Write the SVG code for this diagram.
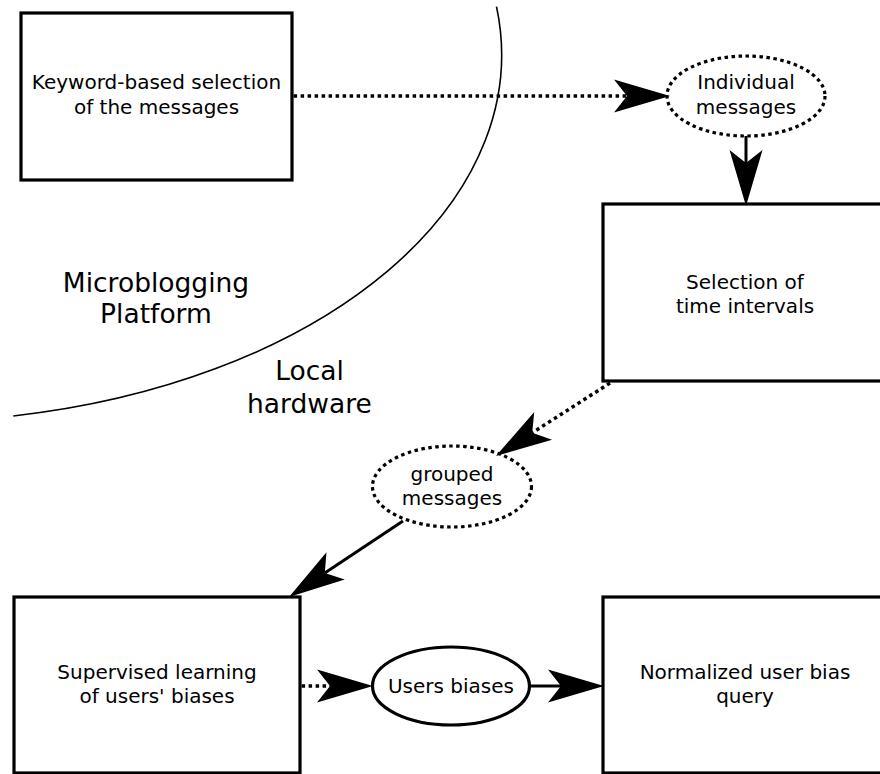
<svg xmlns="http://www.w3.org/2000/svg" width="880" height="774" viewBox="0 0 880 774">
<defs>
<style>
.box{fill:#fff;stroke:#000;stroke-width:3.2}
.ell{fill:#fff;stroke:#000;stroke-width:3.2}
.dotted{stroke-dasharray:3.5 3.5}
.t{font-family:"DejaVu Sans",sans-serif;font-size:20px;text-anchor:middle;fill:#000}
.big{font-size:26.5px}
.conn{fill:none;stroke:#000;stroke-width:3}
.conn.dotted{stroke-width:3.5}
.border{fill:none;stroke:#000;stroke-width:1.6}
</style>
<marker id="ah" markerUnits="userSpaceOnUse" orient="auto" refX="0" refY="0" markerWidth="60" markerHeight="40" overflow="visible">
<path d="M43,0 L-13,-16.5 L0,0 L-13,16.5 Z" fill="#000"/>
</marker>
</defs>
<rect x="0" y="0" width="880" height="774" fill="#fff"/>

<g id="boundary">
<path class="border" d="M496.5,6.7 A594,367 0 0 1 13.3,416"/>
<text class="t big" x="156" y="291.5">Microblogging</text>
<text class="t big" x="156" y="323">Platform</text>
<text class="t big" x="309.5" y="380">Local</text>
<text class="t big" x="309.5" y="412.5">hardware</text>
</g>

<g id="keyword-selection">
<rect class="box" x="21" y="13" width="271" height="167"/>
<text class="t" x="156.5" y="89">Keyword-based selection</text>
<text class="t" x="156.5" y="114">of the messages</text>
</g>

<g id="individual-messages">
<ellipse class="ell dotted" cx="746" cy="96" rx="79" ry="40"/>
<text class="t" x="746" y="89">Individual</text>
<text class="t" x="746" y="114">messages</text>
</g>

<g id="time-intervals">
<rect class="box" x="603" y="204" width="282" height="177"/>
<text class="t" x="745" y="288.5">Selection of</text>
<text class="t" x="745" y="312.5">time intervals</text>
</g>

<g id="grouped-messages">
<ellipse class="ell dotted" cx="452" cy="486.5" rx="79.5" ry="40.5"/>
<text class="t" x="452" y="481">grouped</text>
<text class="t" x="452" y="505">messages</text>
</g>

<g id="supervised-learning">
<rect class="box" x="14" y="597" width="286" height="176"/>
<text class="t" x="157" y="679">Supervised learning</text>
<text class="t" x="157" y="703">of users' biases</text>
</g>

<g id="users-biases">
<ellipse class="ell" cx="451" cy="686" rx="78.5" ry="39"/>
<text class="t" x="451" y="693">Users biases</text>
</g>

<g id="normalized-query">
<rect class="box" x="603" y="597" width="282" height="176"/>
<text class="t" x="745" y="679">Normalized user bias</text>
<text class="t" x="745" y="703">query</text>
</g>

<g id="connectors">
<path class="conn dotted" d="M293.6,96 L627,96" marker-end="url(#ah)"/>
<path class="conn" d="M746,136 L746,163" marker-end="url(#ah)"/>
<path class="conn dotted" d="M610,383 L532.2,432.8" marker-end="url(#ah)"/>
<path class="conn" d="M403,521 L324.8,573.1" marker-end="url(#ah)"/>
<path class="conn dotted" d="M301.6,686 L330,686" marker-end="url(#ah)"/>
<path class="conn" d="M529.5,686 L561,686" marker-end="url(#ah)"/>
</g>
</svg>
